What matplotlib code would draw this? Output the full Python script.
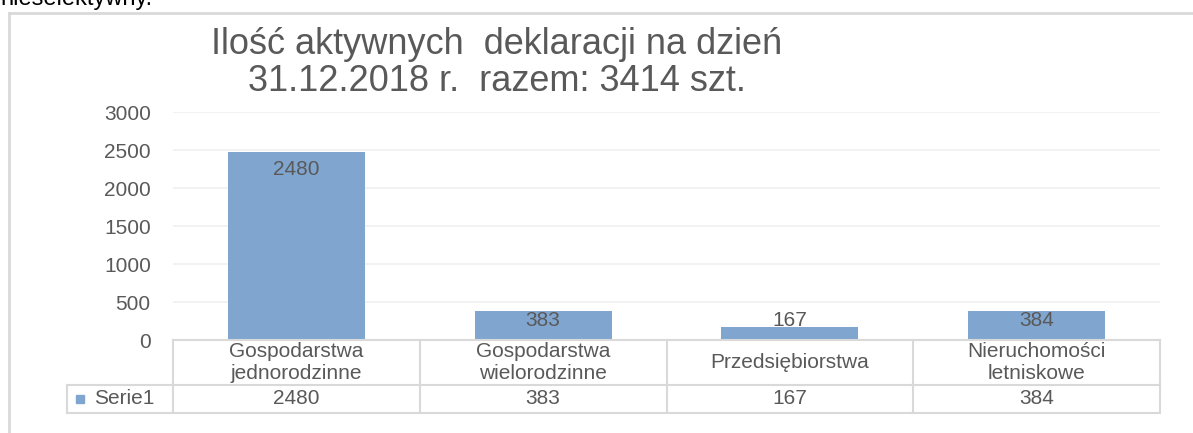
import matplotlib.pyplot as plt
from matplotlib.lines import Line2D
from matplotlib.patches import Rectangle
from matplotlib.transforms import blended_transform_factory

# data
categories = ["Gospodarstwa\njednorodzinne", "Gospodarstwa\nwielorodzinne",
              "Przedsiębiorstwa", "Nieruchomości\nletniskowe"]
values = [2480, 383, 167, 384]
series_name = "Serie1"
yticks = [0, 500, 1000, 1500, 2000, 2500, 3000]
title = "Ilość aktywnych  deklaracji na dzień\n31.12.2018 r.  razem: 3414 szt."

W, H = 1193, 433
bar_color = "#80A6D0"
text_color = "#595959"
line_color = "#D9D9D9"

plt.rcParams['font.family'] = ['Liberation Sans', 'DejaVu Sans']

fig = plt.figure(figsize=(W / 100, H / 100), dpi=100)

# chart frame (left and top edges visible in the crop)
fig.add_artist(Line2D([9 / W, 9 / W], [0, 1 - 13 / H], color=line_color, lw=2))
fig.add_artist(Line2D([9 / W, 1], [1 - 13 / H, 1 - 13 / H], color=line_color, lw=2))
# cut-off text from the page above
fig.text(0.0, 1 - 5 / H, "nieselektywny.", fontsize=17, color="black", va="baseline")

# plot area
x0, x1, y_top, y_zero = 173, 1160, 112, 340
ax = fig.add_axes([x0 / W, (H - y_zero) / H, (x1 - x0) / W, (y_zero - y_top) / H])
ax.set_xlim(-0.5, len(values) - 0.5)
ax.set_ylim(0, 3000)
for s in ax.spines.values():
    s.set_visible(False)
ax.set_yticks(yticks)
ax.set_yticklabels([str(t) for t in yticks], fontsize=15, color=text_color)
ax.tick_params(axis='y', length=0, pad=16)
ax.set_xticks([])
ax.yaxis.grid(True, color="#F0F0F0", lw=1.2)
ax.set_axisbelow(True)

xs = list(range(len(values)))
ax.bar(xs, values, width=0.555, color=bar_color, zorder=2)

# data labels, inside end
px = 3000 / (y_zero - y_top)
for x, v in zip(xs, values):
    y = max(v - 18 * px, 19 * px)
    ax.text(x, y, str(v), ha="center", va="center", fontsize=15, color=text_color, zorder=3)

# data table under the axis
tr = blended_transform_factory(ax.transData, ax.transAxes)
ah = y_zero - y_top
r1 = -(385 - y_zero) / ah
r2 = -(413 - y_zero) / ah
left = -0.5 - (x0 - 67) / ((x1 - x0) / len(values))
n = len(values)

def hline(xa, xb, y):
    ax.add_line(Line2D([xa, xb], [y, y], transform=tr, color=line_color, lw=1.5, clip_on=False))

def vline(x, ya, yb):
    ax.add_line(Line2D([x, x], [ya, yb], transform=tr, color=line_color, lw=1.5, clip_on=False))

hline(-0.5, n - 0.5, 0)
hline(left, n - 0.5, r1)
hline(left, n - 0.5, r2)
for k in range(n + 1):
    vline(k - 0.5, 0, r2)
vline(left, r1, r2)

for x, c, v in zip(xs, categories, values):
    ax.text(x, r1 / 2, c, transform=tr, ha="center", va="center", fontsize=15,
            color=text_color, linespacing=1.25, clip_on=False)
    ax.text(x, (r1 + r2) / 2, str(v), transform=tr, ha="center", va="center",
            fontsize=15, color=text_color, clip_on=False)

ax.add_patch(Rectangle((left + 0.035, (r1 + r2) / 2 - 0.018), 0.033, 0.036,
                       transform=tr, color=bar_color, clip_on=False))
ax.text(left + 0.11, (r1 + r2) / 2, series_name, transform=tr, ha="left", va="center",
        fontsize=15, color=text_color, clip_on=False)

fig.text(497 / W, 1 - 63 / H, title, ha="center", va="center", fontsize=26,
         color=text_color, linespacing=1.07, multialignment="center")

fig.savefig("out.png", dpi=100)
